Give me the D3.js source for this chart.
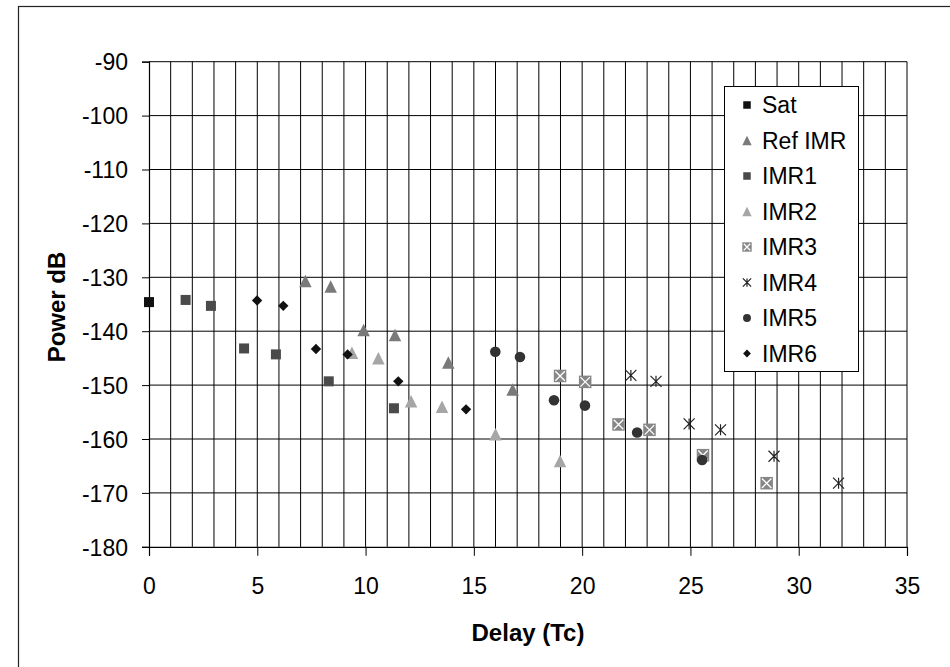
<!DOCTYPE html>
<html>
<head>
<meta charset="utf-8">
<script src="https://cdn.jsdelivr.net/npm/d3@7"></script>
<style>
  html, body { margin: 0; padding: 0; background: #fff; }
  svg { display: block; }
  text { font-family: "Liberation Sans", Arial, sans-serif; fill: #000; }
</style>
</head>
<body>
<svg id="chart" width="950" height="667"></svg>
<script>
// ---- data ----
const seriesNames = ["Sat", "Ref IMR", "IMR1", "IMR2", "IMR3", "IMR4", "IMR5", "IMR6"];

const satDelay = [0];
const satPower = [-134.6];

const refDelay = [7.22, 8.39, 9.91, 11.36, 13.82, 16.79];
const refPower = [-130.7, -131.7, -139.8, -140.7, -145.8, -150.8];

const imr1Delay = [1.69, 2.86, 4.39, 5.86, 8.3, 11.31];
const imr1Power = [-134.2, -135.3, -143.2, -144.3, -149.3, -154.3];

const imr2Delay = [9.37, 10.59, 12.1, 13.53, 16.0, 18.98];
const imr2Power = [-144.0, -145.0, -153.0, -154.0, -159.1, -164.1];

const imr3Delay = [18.98, 20.14, 21.68, 23.11, 25.58, 28.52];
const imr3Power = [-148.3, -149.4, -157.3, -158.3, -163.0, -168.2];

const imr4Delay = [22.25, 23.41, 24.94, 26.39, 28.86, 31.84];
const imr4Power = [-148.2, -149.3, -157.2, -158.3, -163.2, -168.2];

const imr5Delay = [15.99, 17.13, 18.7, 20.13, 22.54, 25.54];
const imr5Power = [-143.8, -144.8, -152.8, -153.8, -158.8, -163.9];

const imr6Delay = [4.99, 6.2, 7.71, 9.17, 11.51, 14.64];
const imr6Power = [-134.3, -135.3, -143.3, -144.3, -149.3, -154.5];

const xTicks = [0, 5, 10, 15, 20, 25, 30, 35];
const yTicks = [-90, -100, -110, -120, -130, -140, -150, -160, -170, -180];

// ---- layout ----
const svg = d3.select("#chart");
const L = 149, R = 907, T = 61.7, B = 546.8;
const x = d3.scaleLinear().domain([0, 35]).range([L, R]);
const y = d3.scaleLinear().domain([-180, -90]).range([B, T]);

// outer frame
svg.append("rect").attr("x", 18.5).attr("y", 6.5).attr("width", 1000).attr("height", 1000)
  .attr("fill", "none").attr("stroke", "#222").attr("stroke-width", 1.2);

// grid
const g = svg.append("g");
g.selectAll("line.vg").data(d3.range(1, 36)).enter().append("line")
  .attr("x1", d => x(d)).attr("x2", d => x(d)).attr("y1", T).attr("y2", B)
  .attr("stroke", "#000").attr("stroke-width", 1);
g.selectAll("line.hg").data(yTicks.filter(d => d !== -180)).enter().append("line")
  .attr("x1", L).attr("x2", R).attr("y1", d => y(d)).attr("y2", d => y(d))
  .attr("stroke", "#000").attr("stroke-width", 1);

// axes
const fmt = d => String(d);
const xAxis = d3.axisBottom(x).tickValues(xTicks).tickSize(9).tickPadding(22).tickFormat(fmt);
const yAxis = d3.axisLeft(y).tickValues(yTicks).tickSize(7).tickPadding(14).tickFormat(fmt);
const gx = svg.append("g").attr("transform", `translate(0,${B})`).call(xAxis);
const gy = svg.append("g").attr("transform", `translate(${L},0)`).call(yAxis);
[gx, gy].forEach(a => {
  a.select(".domain").attr("stroke", "#000").attr("stroke-width", 1.2);
  a.selectAll(".tick line").attr("stroke", "#000");
  a.selectAll(".tick text").style("font-family", "Liberation Sans, Arial, sans-serif")
    .style("font-size", "23px").attr("fill", "#000");
});
gy.selectAll(".tick text").attr("dy", "0.36em");

// axis titles
svg.append("text").attr("x", 528).attr("y", 641).attr("text-anchor", "middle")
  .style("font-size", "24px").style("font-weight", "bold").text("Delay (Tc)");
svg.append("text").attr("transform", "translate(65,307) rotate(-90)").attr("text-anchor", "middle")
  .style("font-size", "24px").style("font-weight", "bold").text("Power dB");

// ---- markers ----
function drawMarker(sel, type, size) {
  if (type === "sat" || type === "imr1") {
    const s = size;
    sel.append("rect").attr("x", -s / 2).attr("y", -s / 2).attr("width", s).attr("height", s)
      .attr("fill", type === "sat" ? "#111" : "#4a4a4a");
  } else if (type === "ref" || type === "imr2") {
    const w = size * 1.25, h = size * 1.25;
    sel.append("path").attr("d", `M0,${-h / 2}L${w / 2},${h / 2}L${-w / 2},${h / 2}Z`)
      .attr("fill", type === "ref" ? "#7a7a7a" : "#a6a6a6");
  } else if (type === "imr3") {
    const s = size * 1.25;
    sel.append("rect").attr("x", -s / 2).attr("y", -s / 2).attr("width", s).attr("height", s)
      .attr("fill", "#868686");
    const k = s / 2 - 1.5;
    sel.append("path").attr("d", `M${-k},${-k}L${k},${k}M${k},${-k}L${-k},${k}`)
      .attr("stroke", "#fff").attr("stroke-width", 1.3).attr("fill", "none");
  } else if (type === "imr4") {
    const k = size * 0.55;
    sel.append("path").attr("d", `M${-k},${-k}L${k},${k}M${k},${-k}L${-k},${k}M0,${-k}L0,${k}`)
      .attr("stroke", "#222").attr("stroke-width", 1.2).attr("fill", "none");
  } else if (type === "imr5") {
    sel.append("circle").attr("r", size * 0.53).attr("fill", "#333");
  } else if (type === "imr6") {
    const k = size * 0.52;
    sel.append("path").attr("d", `M0,${-k}L${k},0L0,${k}L${-k},0Z`).attr("fill", "#111");
  }
}

const series = [
  { key: "sat", xs: satDelay, ys: satPower },
  { key: "ref", xs: refDelay, ys: refPower },
  { key: "imr1", xs: imr1Delay, ys: imr1Power },
  { key: "imr2", xs: imr2Delay, ys: imr2Power },
  { key: "imr3", xs: imr3Delay, ys: imr3Power },
  { key: "imr4", xs: imr4Delay, ys: imr4Power },
  { key: "imr5", xs: imr5Delay, ys: imr5Power },
  { key: "imr6", xs: imr6Delay, ys: imr6Power }
];

const pts = svg.append("g");
series.forEach(s => {
  s.xs.forEach((dx, i) => {
    const m = pts.append("g").attr("transform", `translate(${x(dx)},${y(s.ys[i])})`);
    drawMarker(m, s.key, 10);
  });
});

// ---- legend ----
const lg = svg.append("g");
lg.append("rect").attr("x", 724.5).attr("y", 86.5).attr("width", 134).attr("height", 285)
  .attr("fill", "#fff").attr("stroke", "#000").attr("stroke-width", 1);
series.forEach((s, i) => {
  const cy = 105 + i * 35.5;
  const m = lg.append("g").attr("transform", `translate(747,${cy})`);
  drawMarker(m, s.key, 7.5);
  lg.append("text").attr("x", 762).attr("y", cy).attr("dy", "0.36em")
    .style("font-size", "23px").text(seriesNames[i]);
});
</script>
</body>
</html>
